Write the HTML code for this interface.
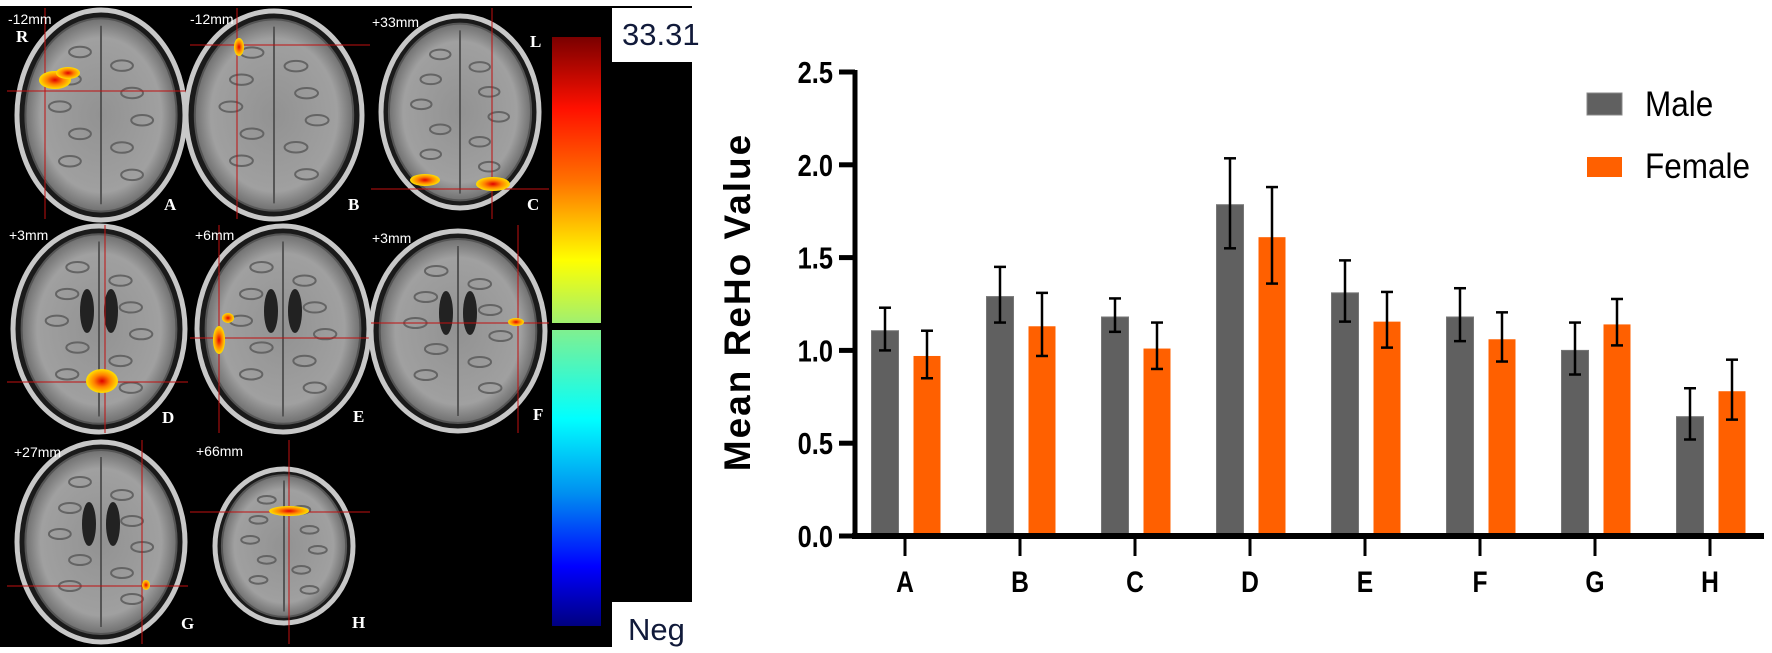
<!DOCTYPE html>
<html><head><meta charset="utf-8"><style>
html,body{margin:0;padding:0;background:#fff;}
body{width:1772px;height:653px;overflow:hidden;position:relative;font-family:"Liberation Sans",sans-serif;}
svg{position:absolute;left:0;top:0;}
</style></head><body>
<svg id="fig" width="1772" height="653" viewBox="0 0 1772 653" xmlns="http://www.w3.org/2000/svg">
<defs>
<linearGradient id="hot" x1="0" y1="0" x2="0" y2="1">
<stop offset="0" stop-color="#7a0000"/><stop offset="0.25" stop-color="#ff1000"/><stop offset="0.5" stop-color="#ff7000"/><stop offset="0.78" stop-color="#ffff00"/><stop offset="1" stop-color="#a0f070"/></linearGradient>
<linearGradient id="cold" x1="0" y1="0" x2="0" y2="1">
<stop offset="0" stop-color="#80f090"/><stop offset="0.3" stop-color="#00ffff"/><stop offset="0.55" stop-color="#0090f0"/><stop offset="0.8" stop-color="#0000ff"/><stop offset="1" stop-color="#000080"/></linearGradient>
<radialGradient id="brain" cx="0.5" cy="0.5" r="0.5">
<stop offset="0" stop-color="#929292"/><stop offset="0.8" stop-color="#a0a0a0"/><stop offset="1" stop-color="#707070"/></radialGradient>
<radialGradient id="blob" cx="0.5" cy="0.5" r="0.5">
<stop offset="0" stop-color="#e00000"/><stop offset="0.5" stop-color="#ff8000"/><stop offset="1" stop-color="#ffe000"/></radialGradient>
</defs>
<rect x="0" y="6" width="692" height="641" fill="#000"/>
<g id="brains"></g>
<rect x="552" y="37" width="49" height="286" fill="url(#hot)"/>
<rect x="552" y="330" width="49" height="296" fill="url(#cold)"/>
<rect x="612" y="8" width="80" height="54" fill="#fff"/>
<text x="622" y="45" font-size="31" fill="#111a3a">33.31</text>
<rect x="612" y="602" width="80" height="51" fill="#fff"/>
<text x="628" y="640" font-size="31" fill="#111a3a">Neg</text>
<g id="chart"></g>
</svg>
<script>
var NS="http://www.w3.org/2000/svg";
function mk(tag,attrs,parent){var e=document.createElementNS(NS,tag);for(var k in attrs)e.setAttribute(k,attrs[k]);parent.appendChild(e);return e;}

// ---- brain panel ----
var brainLabels=["A","B","C","D","E","F","G","H"];
var brainMm=["-12mm","-12mm","+33mm","+3mm","+6mm","+3mm","+27mm","+66mm"];
var bg=document.getElementById('brains');
var B=[
 {cx:101,cy:115,rx:84,ry:105,vx:45,hy:91,blobs:[[55,80,16,9],[68,73,12,6]],lx:164,ly:210,mx:8,my:24},
 {cx:274,cy:115,rx:88,ry:104,vx:237,hy:45,blobs:[[239,47,5,9]],lx:348,ly:210,mx:190,my:24},
 {cx:460,cy:112,rx:79,ry:96,vx:492,hy:189,blobs:[[425,180,15,6],[493,184,17,7]],lx:527,ly:210,mx:372,my:27},
 {cx:99,cy:329,rx:86,ry:103,vx:105,hy:382,blobs:[[102,381,16,12]],lx:162,ly:423,mx:9,my:240},
 {cx:283,cy:329,rx:86,ry:103,vx:219,hy:338,blobs:[[219,340,6,14],[228,318,6,5]],lx:353,ly:422,mx:195,my:240},
 {cx:458,cy:331,rx:87,ry:100,vx:518,hy:323,blobs:[[516,322,8,4]],lx:533,ly:420,mx:372,my:243},
 {cx:101,cy:542,rx:84,ry:100,vx:142,hy:586,blobs:[[146,585,4,5]],lx:181,ly:629,mx:14,my:457},
 {cx:284,cy:546,rx:69,ry:77,vx:289,hy:512,blobs:[[289,511,20,5]],lx:352,ly:628,mx:196,my:456}
];
var cellX=[[7,188],[190,370],[371,549]],cellY=[[8,219],[225,433],[440,644]];
B.forEach(function(b,i){
  var g=mk('g',{},bg);
  
  
  mk('ellipse',{cx:b.cx,cy:b.cy,rx:b.rx,ry:b.ry,fill:'#1a1a1a',stroke:'#c8c8c8','stroke-width':5},g);
  mk('ellipse',{cx:b.cx,cy:b.cy,rx:b.rx*0.9,ry:b.ry*0.92,fill:'url(#brain)',stroke:'#555','stroke-width':2},g);
  mk('line',{x1:b.cx,y1:b.cy-b.ry*0.85,x2:b.cx,y2:b.cy+b.ry*0.85,stroke:'#555','stroke-width':2},g);
  for(var k=0;k<10;k++){
    mk('ellipse',{cx:b.cx+(k%2?1:-1)*b.rx*(0.25+0.12*((k>>1)%3)),cy:b.cy-b.ry*0.6+k*b.ry*0.13,rx:b.rx*0.13,ry:b.ry*0.05,fill:'none',stroke:'#646464','stroke-width':2},g);
  }
  if(i>=3&&i<=6){
    mk('ellipse',{cx:b.cx-12,cy:b.cy-18,rx:7,ry:22,fill:'#222'},g);
    mk('ellipse',{cx:b.cx+12,cy:b.cy-18,rx:7,ry:22,fill:'#222'},g);
  }
  mk('line',{x1:b.vx,y1:cellY[Math.floor(i/3)][0],x2:b.vx,y2:cellY[Math.floor(i/3)][1],stroke:'#c01010','stroke-width':1},g);
  mk('line',{x1:cellX[i%3][0],y1:b.hy,x2:cellX[i%3][1],y2:b.hy,stroke:'#c01010','stroke-width':1},g);
  b.blobs.forEach(function(p){mk('ellipse',{cx:p[0],cy:p[1],rx:p[2],ry:p[3],fill:'url(#blob)'},g);});
  var t=mk('text',{x:b.lx,y:b.ly,'font-size':17,'font-weight':'bold','font-family':'Liberation Serif, serif',fill:'#fff'},g);t.textContent=brainLabels[i];
  var m=mk('text',{x:b.mx,y:b.my,'font-size':14,fill:'#fff'},g);m.textContent=brainMm[i];
});
var tR=mk('text',{x:16,y:42,'font-size':17,'font-weight':'bold','font-family':'Liberation Serif, serif',fill:'#fff'},bg);tR.textContent='R';


var tL=mk('text',{x:530,y:47,'font-size':17,'font-weight':'bold','font-family':'Liberation Serif, serif',fill:'#fff'},bg);tL.textContent='L';



// ---- bar chart ----
var categories=["A","B","C","D","E","F","G","H"];
var maleValues=[1.106,1.29,1.18,1.785,1.31,1.18,1.0,0.643];
var maleErrUp=[1.23,1.45,1.28,2.035,1.485,1.335,1.15,0.796];
var maleErrLow=[1.0,1.15,1.10,1.55,1.155,1.05,0.87,0.52];
var femaleValues=[0.97,1.13,1.01,1.61,1.155,1.06,1.14,0.78];
var femaleErrUp=[1.106,1.31,1.15,1.88,1.315,1.205,1.277,0.95];
var femaleErrLow=[0.85,0.97,0.90,1.36,1.015,0.94,1.027,0.627];
var yTicks=["0.0","0.5","1.0","1.5","2.0","2.5"];

var ch=document.getElementById('chart');
var AX=855,Y0=536,PPU=185.6;
function yS(v){return Y0-v*PPU;}
function xS(i){return 905+i*115;}
var bw=27;
categories.forEach(function(c,i){
  var x=xS(i);
  var r1=mk('rect',{x:x-20-bw/2,y:yS(maleValues[i]),width:bw,height:Y0-yS(maleValues[i]),fill:'#606060',stroke:'#777','stroke-width':1},ch);
  
  
  var r2=mk('rect',{x:x+22-bw/2,y:yS(femaleValues[i]),width:bw,height:Y0-yS(femaleValues[i]),fill:'#ff6000'},ch);
  
  
  [[x-20,maleErrUp[i],maleErrLow[i]],[x+22,femaleErrUp[i],femaleErrLow[i]]].forEach(function(e,j){
    var g=mk('g',{stroke:'#000','stroke-width':2.5},ch);
    
    
    mk('line',{x1:e[0],y1:yS(e[1]),x2:e[0],y2:yS(e[2])},g);
    mk('line',{x1:e[0]-6,y1:yS(e[1]),x2:e[0]+6,y2:yS(e[1])},g);
    mk('line',{x1:e[0]-6,y1:yS(e[2]),x2:e[0]+6,y2:yS(e[2])},g);
  });
  var tk=mk('line',{x1:x,y1:Y0,x2:x,y2:Y0+20,stroke:'#000','stroke-width':3},ch);
  
  
  var t=mk('text',{x:x,y:Y0+56,'font-size':30,'font-weight':'bold','text-anchor':'middle',transform:'translate('+x+',0) scale(0.82,1) translate('+(-x)+',0)'},ch);
  t.textContent=c;
  
  
});
yTicks.forEach(function(l,i){
  var v=parseFloat(l),y=yS(v);
  var tk=mk('line',{x1:AX-16,y1:y,x2:AX,y2:y,stroke:'#000','stroke-width':5},ch);
  
  
  var t=mk('text',{x:AX-22,y:y+11,'font-size':31,'font-weight':'bold','text-anchor':'end',transform:'translate('+(AX-22)+',0) scale(0.82,1) translate('+(-(AX-22))+',0)'},ch);
  t.textContent=l;
  
  
});
var ya=mk('line',{x1:AX,y1:70,x2:AX,y2:Y0+3,stroke:'#000','stroke-width':5},ch);


var xa=mk('line',{x1:AX-3,y1:Y0,x2:1764,y2:Y0,stroke:'#000','stroke-width':6},ch);


var yt=mk('text',{x:737,y:302,'font-size':37,'font-weight':'bold','letter-spacing':'2','text-anchor':'middle',transform:'rotate(-90 737 302) translate(0,13)','xml:space':'preserve'},ch);
yt.textContent='Mean ReHo  Value';


var lg=mk('g',{},ch);


var s1=mk('rect',{x:1587,y:93,width:35,height:22,fill:'#606060',stroke:'#888','stroke-width':1},lg);


var l1=mk('text',{x:1645,y:116,'font-size':35,transform:'translate(1645,0) scale(0.9,1) translate(-1645,0)'},lg);l1.textContent='Male';


var s2=mk('rect',{x:1587,y:157,width:35,height:20,fill:'#ff6000'},lg);


var l2=mk('text',{x:1645,y:178,'font-size':35,transform:'translate(1645,0) scale(0.9,1) translate(-1645,0)'},lg);l2.textContent='Female';


</script>
</body></html>
